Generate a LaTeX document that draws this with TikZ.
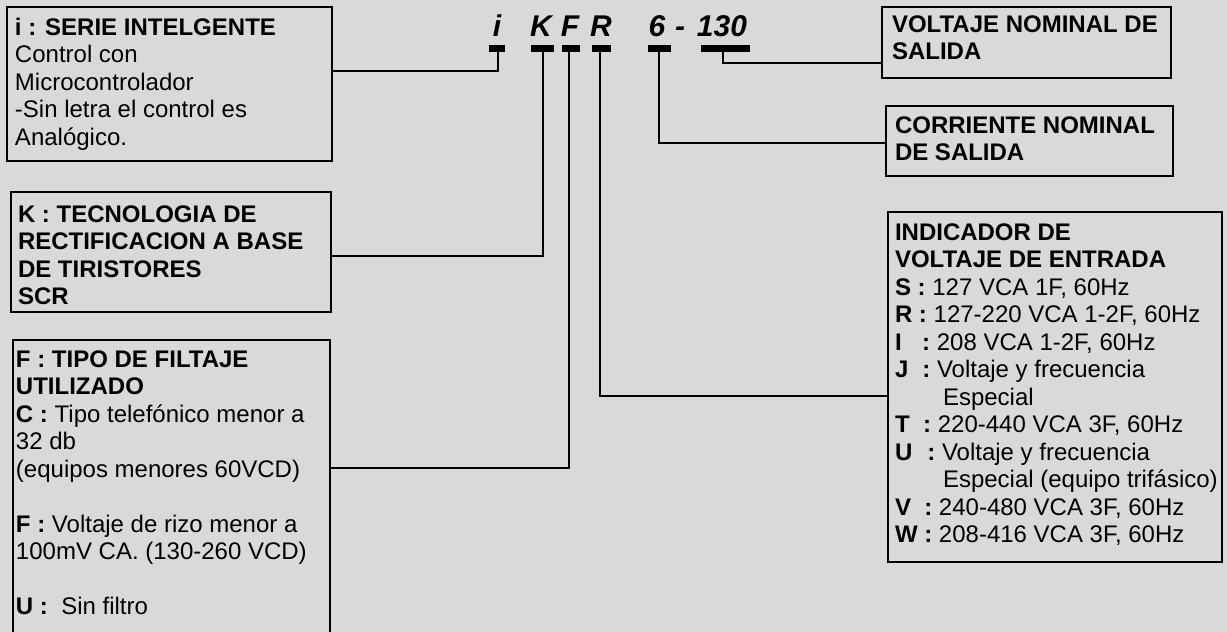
\documentclass[tikz,border=0pt]{standalone}
\usepackage{fontspec}
\setmainfont{Liberation Sans}
\definecolor{bg}{HTML}{D9D9D9}
\begin{document}
\begin{tikzpicture}[x=1pt,y=-1pt,
  box/.style={draw=black, line width=2pt, inner sep=0pt, outer sep=0pt, anchor=north west},
  conn/.style={draw=black, line width=1.3pt},
  markbar/.style={fill=black, inner sep=0pt, outer sep=0pt, minimum height=7pt},
  txt/.style={inner sep=0pt, outer sep=0pt, anchor=base west, font=\fontsize{24}{27.5}\selectfont},
  code/.style={inner sep=0pt, anchor=base, font=\fontsize{30}{30}\selectfont\bfseries\itshape}
]
\useasboundingbox[fill=bg] (0,0) rectangle (1227,632);
\clip (0,0) rectangle (1227,632);

% boxes
\node[box, minimum width=325pt, minimum height=154pt] (b1) at (7,7) {};
\node[box, minimum width=320pt, minimum height=120pt] (bK) at (11,192) {};
\node[box, minimum width=317pt, minimum height=320pt] (bF) at (13,340) {};
\node[box, minimum width=289pt, minimum height=71pt] (bV) at (882,7) {};
\node[box, minimum width=287pt, minimum height=70pt] (bC) at (886,106) {};
\node[box, minimum width=334pt, minimum height=350pt] (bI) at (888,212) {};

% texts
\node[txt] (t1) at (15,35) {\parbox[t]{400pt}{\raggedright
  \textbf{i : SERIE INTELGENTE}\\Control con\\Microcontrolador\\-Sin letra el control es\\Analógico.}};
\node[txt] (tK) at (18,222) {\parbox[t]{400pt}{\raggedright\bfseries
  K : TECNOLOGIA DE\\RECTIFICACION A BASE\\DE TIRISTORES\\SCR}};
\node[txt] (tF) at (16,367) {\parbox[t]{400pt}{\raggedright
  \textbf{F : TIPO DE FILTAJE}\\\textbf{UTILIZADO}\\\textbf{C :} Tipo telefónico menor a\\32 db\\(equipos menores 60VCD)\\[27.5pt]%
  \textbf{F :} Voltaje de rizo menor a\\100mV CA. (130-260 VCD)\\[27.5pt]%
  \textbf{U :}\ \ Sin filtro}};
\node[txt] (tV) at (892,32) {\parbox[t]{400pt}{\raggedright\bfseries
  VOLTAJE NOMINAL DE\\SALIDA}};
\node[txt] (tC) at (895,133) {\parbox[t]{400pt}{\raggedright\bfseries
  CORRIENTE NOMINAL\\DE SALIDA}};
\node[txt] (tI) at (895,240) {\parbox[t]{400pt}{\raggedright
  \textbf{INDICADOR DE}\\\textbf{VOLTAJE DE ENTRADA}\\
  \textbf{S :} 127 VCA 1F, 60Hz\\
  \textbf{R :} 127-220 VCA 1-2F, 60Hz\\
  \textbf{I\hspace{20.5pt}:} 208 VCA 1-2F, 60Hz\\
  \textbf{J\hspace{14pt}:} Voltaje y frecuencia\\
  \hspace*{48pt}Especial\\
  \textbf{T\hspace{13.5pt}:} 220-440 VCA 3F, 60Hz\\
  \textbf{U\hspace{15pt}:} Voltaje y frecuencia\\
  \hspace*{48pt}Especial (equipo trifásico)\\
  \textbf{V\hspace{13.3pt}:} 240-480 VCA 3F, 60Hz\\
  \textbf{W :} 208-416 VCA 3F, 60Hz}};

% code letters
\node[code] (ci) at (497,36) {i};
\node[code] (cK) at (541,36) {K};
\node[code] (cF) at (570,36) {F};
\node[code] (cR) at (601,36) {R};
\node[code] (c6) at (657,36) {6};
\node[code] (cd) at (680,36) {-};
\node[code] (c130) at (722,36) {130};

% marker bars
\node[markbar, minimum width=16pt] (mi) at (497,48.5) {};
\node[markbar, minimum width=23pt] (mK) at (542.5,48.5) {};
\node[markbar, minimum width=18pt] (mF) at (571,48.5) {};
\node[markbar, minimum width=19pt] (mR) at (601.5,48.5) {};
\node[markbar, minimum width=23pt] (m6) at (659.5,48.5) {};
\node[markbar, minimum width=49pt] (m130) at (725.5,48.5) {};

% connector corners
\coordinate (ki) at (498,71);
\coordinate (kK) at (543,256);
\coordinate (kF) at (569,468);
\coordinate (kR) at (600,396);
\coordinate (k6) at (659,143);
\coordinate (k130) at (723,63);

\draw[conn] (mi.south -| ki) -- (ki) -- (ki -| b1.east);
\draw[conn] (mK.south -| kK) -- (kK) -- (kK -| bK.east);
\draw[conn] (mF.south -| kF) -- (kF) -- (kF -| bF.east);
\draw[conn] (mR.south -| kR) -- (kR) -- (kR -| bI.west);
\draw[conn] (m6.south -| k6) -- (k6) -- (k6 -| bC.west);
\draw[conn] (m130.south -| k130) -- (k130) -- (k130 -| bV.west);
\end{tikzpicture}
\end{document}
